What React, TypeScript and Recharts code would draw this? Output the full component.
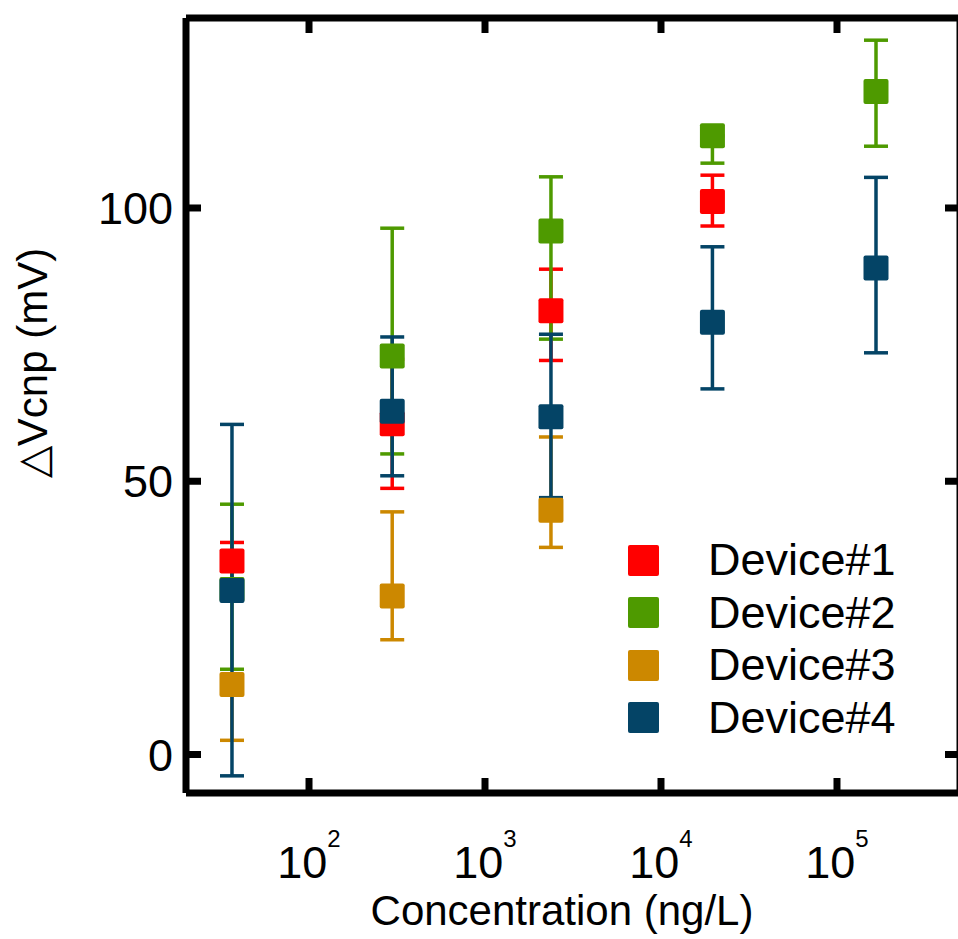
import React from "react";
import {
  ErrorBar,
  Legend,
  Scatter,
  ScatterChart,
  XAxis,
  YAxis,
} from "recharts";

// concentrations (ng/L) on the log axis
const concentrations = [36.5, 297, 2370, 19600, 166600];

const device1Values = [35.4, 60.5, 81.2, 101.2];
const device1ErrLow = [3.4, 11.8, 9.1, 4.5];
const device1ErrHigh = [3.4, 11.8, 7.6, 4.8];

const device2Values = [30.2, 72.9, 95.8, 113.2, 121.3];
const device2ErrLow = [14.6, 17.9, 19.8, 5.0, 10.0];
const device2ErrHigh = [15.6, 23.4, 9.9, 0, 9.4];

const device3Values = [12.8, 29.0, 44.7];
const device3ErrLow = [10.2, 8.0, 6.8];
const device3ErrHigh = [0, 15.4, 13.4];

const device4Values = [30.0, 62.8, 61.8, 79.1, 89.0];
const device4ErrLow = [33.9, 11.8, 14.8, 12.2, 15.5];
const device4ErrHigh = [30.4, 13.6, 15.1, 13.8, 16.6];

const xTicks = [100, 1000, 10000, 100000];
const yTicks = [0, 50, 100];

const FONT = '"Liberation Sans", Arial, sans-serif';
const TICK_LEN = 15;
const X_DOMAIN = [20, 500000];
const Y_DOMAIN = [-7.04, 134.76];

const build = (values: number[], low: number[], high: number[]) =>
  values.map((y, i) => ({ x: concentrations[i], y, err: [low[i], high[i]] }));

const series = [
  { name: "Device#1", color: "#ff0000", data: build(device1Values, device1ErrLow, device1ErrHigh) },
  { name: "Device#2", color: "#4e9a00", data: build(device2Values, device2ErrLow, device2ErrHigh) },
  { name: "Device#3", color: "#cc8800", data: build(device3Values, device3ErrLow, device3ErrHigh) },
  { name: "Device#4", color: "#044466", data: build(device4Values, device4ErrLow, device4ErrHigh) },
];

// inner tick marks of the top and left frame, placed by the chart scales
const frameTicks = [
  ...xTicks.map((x) => ({ x, y: Y_DOMAIN[1], side: "top" })),
  ...yTicks.map((y) => ({ x: X_DOMAIN[0], y, side: "left" })),
];

const SquareDot = (props: any) => {
  const { cx, cy, fill } = props;
  return <rect x={cx - 12.5} y={cy - 12.5} width={25} height={25} rx={2} fill={fill} />;
};

const FrameTick = (props: any) => {
  const { cx, cy, payload } = props;
  if (payload?.side === "top") {
    return <line x1={cx} x2={cx} y1={cy} y2={cy + TICK_LEN} stroke="#000" strokeWidth={7} />;
  }
  return <line x1={cx} x2={cx + TICK_LEN} y1={cy} y2={cy} stroke="#000" strokeWidth={7} />;
};

// tickSize/tickMargin are 0, so x/y handed to these ticks sit on the axis line
const BottomTick = ({ x, y, payload }: any) => {
  const exp = Math.round(Math.log10(payload.value));
  return (
    <g>
      <line x1={x} x2={x} y1={y} y2={y - TICK_LEN} stroke="#000" strokeWidth={7} />
      <text x={x} y={y + 85} textAnchor="middle" fontSize={45} fontFamily={FONT} fill="#000">
        10
        <tspan dy={-31} fontSize={24}>
          {exp}
        </tspan>
      </text>
    </g>
  );
};

const LeftTick = ({ x, y, payload }: any) => (
  <text x={x - 13} y={y} dy="0.36em" textAnchor="end" fontSize={45} fontFamily={FONT} fill="#000">
    {payload.value}
  </text>
);

const RightTick = ({ x, y }: any) => (
  <line x1={x} x2={x - TICK_LEN} y1={y} y2={y} stroke="#000" strokeWidth={7} />
);

const LegendBox = () => (
  <div style={{ fontFamily: FONT }}>
    {series.map((s) => (
      <div key={s.name} style={{ display: "flex", alignItems: "center", height: 52.5 }}>
        <div style={{ width: 31, height: 31, background: s.color, borderRadius: 2 }} />
        <span style={{ marginLeft: 49, fontSize: 45, lineHeight: "52px", color: "#000" }}>
          {s.name}
        </span>
      </div>
    ))}
  </div>
);

const axisLine = { stroke: "#000", strokeWidth: 7 };

const boxStyle: React.CSSProperties = {
  position: "absolute",
  left: 0,
  top: 0,
  width: 958,
  height: 939,
  overflow: "hidden",
};

export default function App() {
  return (
    <div style={{ position: "absolute", left: 0, top: 0, width: 958, height: 939, background: "#fff" }}>
      <div style={boxStyle}>
        <ScatterChart width={961} height={939} margin={{ top: 17, right: 0, bottom: 0, left: 0 }}>
          <XAxis
            dataKey="x"
            type="number"
            scale="log"
            domain={X_DOMAIN}
            allowDataOverflow
            ticks={xTicks}
            interval={0}
            height={146}
            axisLine={axisLine}
            tickLine={false}
            tickSize={0}
            tickMargin={0}
            tick={<BottomTick />}
            label={{
              content: () => (
                <text x={562} y={925} textAnchor="middle" fontSize={42} fontFamily={FONT} fill="#000">
                  Concentration (ng/L)
                </text>
              ),
            }}
          />
          <XAxis
            xAxisId="top"
            orientation="top"
            type="number"
            scale="log"
            domain={X_DOMAIN}
            allowDataOverflow
            height={1}
            axisLine={axisLine}
            tickLine={false}
            tick={false}
          />
          <YAxis
            dataKey="y"
            type="number"
            domain={Y_DOMAIN}
            allowDataOverflow
            ticks={yTicks}
            interval={0}
            width={186}
            axisLine={axisLine}
            tickLine={false}
            tickSize={0}
            tickMargin={0}
            tick={<LeftTick />}
            label={{
              content: () => (
                <text
                  transform="translate(47,363) rotate(-90)"
                  textAnchor="middle"
                  fontSize={42}
                  fontFamily={FONT}
                  fill="#000"
                >
                  △Vcnp (mV)
                </text>
              ),
            }}
          />
          <YAxis
            yAxisId="right"
            orientation="right"
            type="number"
            domain={Y_DOMAIN}
            allowDataOverflow
            ticks={yTicks}
            interval={0}
            width={1}
            axisLine={axisLine}
            tickLine={false}
            tickSize={0}
            tickMargin={0}
            tick={<RightTick />}
          />
          {series.map((s) => (
            <Scatter
              key={s.name}
              name={s.name}
              data={s.data}
              fill={s.color}
              shape={<SquareDot />}
              isAnimationActive={false}
            >
              <ErrorBar
                dataKey="err"
                direction="y"
                width={12}
                strokeWidth={3.5}
                stroke={s.color}
                isAnimationActive={false}
              />
            </Scatter>
          ))}
          <Legend
            layout="vertical"
            align="center"
            verticalAlign="middle"
            content={<LegendBox />}
            wrapperStyle={{ left: 628, top: 534, width: 320 }}
          />
        </ScatterChart>
      </div>
      {/* same plot area, only the inner ticks of the left and top frame */}
      <div style={{ ...boxStyle, pointerEvents: "none" }}>
        <ScatterChart width={961} height={939} margin={{ top: 18, right: 1, bottom: 146, left: 186 }}>
          <XAxis dataKey="x" type="number" scale="log" domain={X_DOMAIN} allowDataOverflow hide />
          <YAxis dataKey="y" type="number" domain={Y_DOMAIN} allowDataOverflow hide />
          <Scatter
            name="frame"
            data={frameTicks}
            fill="#000"
            shape={<FrameTick />}
            isAnimationActive={false}
          />
        </ScatterChart>
      </div>
    </div>
  );
}
